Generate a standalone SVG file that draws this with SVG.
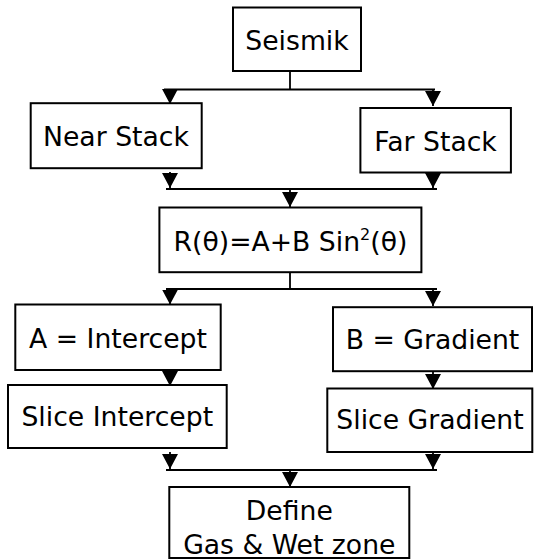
<svg xmlns="http://www.w3.org/2000/svg" width="534" height="560" viewBox="0 0 534 560">
  <style>
    .box { fill: #ffffff; stroke: #000000; stroke-width: 2; }
    .lbl { font-family: "DejaVu Sans", Verdana, sans-serif; font-size: 26.67px; fill: #000000; text-anchor: middle; }
    .ln { fill: none; stroke: #000000; stroke-width: 1.8; }
    .arr { fill: none; stroke: #000000; stroke-width: 1.8; marker-end: url(#head); }
  </style>
  <defs>
    <marker id="head" viewBox="0 0 15 16" refX="15" refY="8" markerWidth="15" markerHeight="16" markerUnits="userSpaceOnUse" orient="auto">
      <path d="M0,0 L15,8 L0,16 z" fill="#000000"/>
    </marker>
  </defs>

  <rect width="534" height="560" fill="#ffffff"/>

  <!-- connectors -->
  <g id="connectors">
    <!-- Seismik split -->
    <path class="ln" d="M290,71 V89.5 M164,89.5 H435"/>
    <path class="arr" d="M170,89.5 V104"/>
    <path class="arr" d="M433,89.5 V106"/>
    <!-- stacks merge -->
    <path class="arr" d="M170,172 V188"/>
    <path class="arr" d="M433,173 V188"/>
    <path class="ln" d="M166,189 H437"/>
    <path class="arr" d="M290,189 V207"/>
    <!-- equation split -->
    <path class="ln" d="M290,272 V289 M166,289 H437"/>
    <path class="arr" d="M170,289 V304.5"/>
    <path class="arr" d="M433,289 V306"/>
    <!-- attribute to slice -->
    <path class="arr" d="M170,370 V386"/>
    <path class="arr" d="M433,371 V389"/>
    <!-- slices merge -->
    <path class="arr" d="M170,452 V469"/>
    <path class="arr" d="M433,453 V469"/>
    <path class="ln" d="M166,470 H437"/>
    <path class="arr" d="M290,470 V487"/>
  </g>

  <g id="seismik">
    <rect class="box" x="233" y="7.5" width="128" height="63.5"/>
    <text class="lbl" x="297" y="50">Seismik</text>
  </g>

  <g id="near-stack">
    <rect class="box" x="30.7" y="103.2" width="171" height="65"/>
    <text class="lbl" x="116" y="146">Near Stack</text>
  </g>

  <g id="far-stack">
    <rect class="box" x="360.4" y="108" width="150.5" height="64.5"/>
    <text class="lbl" x="435.6" y="150.5">Far Stack</text>
  </g>

  <g id="equation">
    <rect class="box" x="159.4" y="207.5" width="262" height="64.7"/>
    <text class="lbl" x="290.5" y="251">R(θ)=A+B Sin<tspan font-size="16" dy="-11">2</tspan><tspan dy="11">(θ)</tspan></text>
  </g>

  <g id="intercept">
    <rect class="box" x="15.3" y="304.5" width="205.4" height="65.5"/>
    <text class="lbl" x="118" y="347.5">A = Intercept</text>
  </g>

  <g id="gradient">
    <rect class="box" x="333" y="307.2" width="199" height="64"/>
    <text class="lbl" x="432.5" y="349">B = Gradient</text>
  </g>

  <g id="slice-intercept">
    <rect class="box" x="8" y="385" width="218.7" height="63"/>
    <text class="lbl" x="117.3" y="425.7">Slice Intercept</text>
  </g>

  <g id="slice-gradient">
    <rect class="box" x="327.3" y="388.5" width="205" height="63.5"/>
    <text class="lbl" x="430" y="428.5">Slice Gradient</text>
  </g>

  <g id="define-zone">
    <rect class="box" x="169.3" y="487" width="240" height="71"/>
    <text class="lbl" x="289.3" y="519.5">Define</text>
    <text class="lbl" x="289.3" y="554">Gas &amp; Wet zone</text>
  </g>
</svg>
